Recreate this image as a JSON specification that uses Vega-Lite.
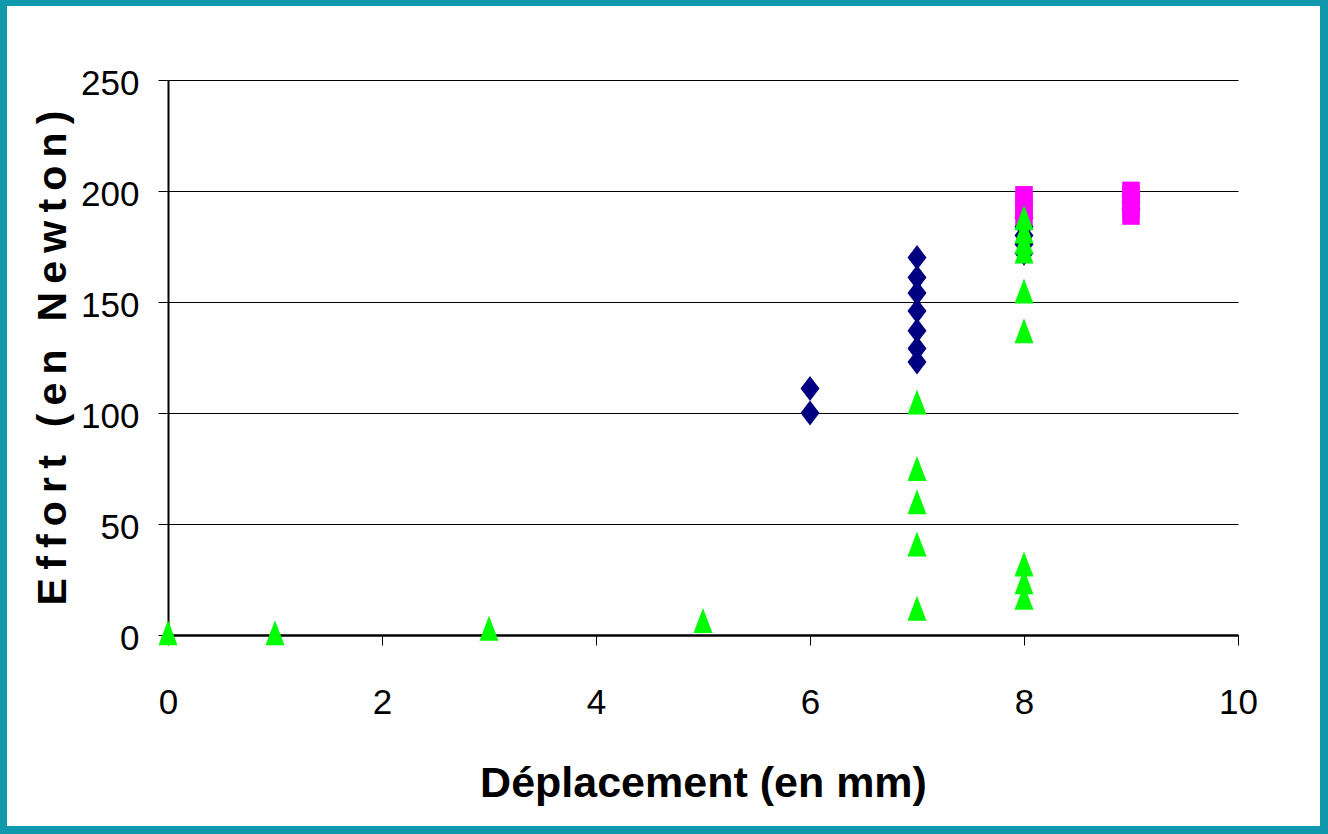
{
  "$schema": "https://vega.github.io/schema/vega-lite/v6.json",
  "width": 1313,
  "height": 820,
  "autosize": {"type": "none"},
  "padding": {"left": 7, "top": 6, "right": 8, "bottom": 8},
  "background": "#1098AD",
  "config": {
    "view": {"fill": "white", "stroke": null},
    "axis": {
      "labelColor": "black",
      "titleColor": "black",
      "tickColor": "black",
      "domainColor": "black",
      "labelFont": "Liberation Sans, Arial, sans-serif",
      "labelFontSize": 35,
      "labelFontWeight": "normal",
      "tickSize": 10,
      "tickWidth": 1,
      "labelFlush": false,
      "labelOverlap": false
    }
  },
  "datasets": {
    "points": [
      {"serie": "Série 1", "deplacement": 6, "effort": 100},
      {"serie": "Série 1", "deplacement": 6, "effort": 111},
      {"serie": "Série 1", "deplacement": 7, "effort": 123},
      {"serie": "Série 1", "deplacement": 7, "effort": 129},
      {"serie": "Série 1", "deplacement": 7, "effort": 137},
      {"serie": "Série 1", "deplacement": 7, "effort": 146},
      {"serie": "Série 1", "deplacement": 7, "effort": 154},
      {"serie": "Série 1", "deplacement": 7, "effort": 161},
      {"serie": "Série 1", "deplacement": 7, "effort": 170},
      {"serie": "Série 1", "deplacement": 8, "effort": 172},
      {"serie": "Série 1", "deplacement": 8, "effort": 176},
      {"serie": "Série 1", "deplacement": 8, "effort": 180},
      {"serie": "Série 1", "deplacement": 8, "effort": 184},
      {"serie": "Série 1", "deplacement": 8, "effort": 188},
      {"serie": "Série 1", "deplacement": 9, "effort": 192},
      {"serie": "Série 1", "deplacement": 9, "effort": 195},
      {"serie": "Série 1", "deplacement": 9, "effort": 198},
      {"serie": "Série 2", "deplacement": 8, "effort": 189},
      {"serie": "Série 2", "deplacement": 8, "effort": 192},
      {"serie": "Série 2", "deplacement": 8, "effort": 195},
      {"serie": "Série 2", "deplacement": 8, "effort": 198},
      {"serie": "Série 2", "deplacement": 9, "effort": 189},
      {"serie": "Série 2", "deplacement": 9, "effort": 192},
      {"serie": "Série 2", "deplacement": 9, "effort": 195},
      {"serie": "Série 2", "deplacement": 9, "effort": 198},
      {"serie": "Série 2", "deplacement": 9, "effort": 200},
      {"serie": "Série 3", "deplacement": 0, "effort": 1},
      {"serie": "Série 3", "deplacement": 1, "effort": 1},
      {"serie": "Série 3", "deplacement": 3, "effort": 3},
      {"serie": "Série 3", "deplacement": 5, "effort": 6.5},
      {"serie": "Série 3", "deplacement": 7, "effort": 12},
      {"serie": "Série 3", "deplacement": 7, "effort": 41},
      {"serie": "Série 3", "deplacement": 7, "effort": 60},
      {"serie": "Série 3", "deplacement": 7, "effort": 75},
      {"serie": "Série 3", "deplacement": 7, "effort": 105},
      {"serie": "Série 3", "deplacement": 8, "effort": 17},
      {"serie": "Série 3", "deplacement": 8, "effort": 24},
      {"serie": "Série 3", "deplacement": 8, "effort": 32},
      {"serie": "Série 3", "deplacement": 8, "effort": 137},
      {"serie": "Série 3", "deplacement": 8, "effort": 155},
      {"serie": "Série 3", "deplacement": 8, "effort": 173},
      {"serie": "Série 3", "deplacement": 8, "effort": 177},
      {"serie": "Série 3", "deplacement": 8, "effort": 182},
      {"serie": "Série 3", "deplacement": 8, "effort": 188}
    ]
  },
  "layer": [
    {
      "data": {"name": "points"},
      "mark": {"type": "point", "filled": true, "opacity": 1, "size": 625, "strokeWidth": 0},
      "encoding": {
        "x": {
          "field": "deplacement",
          "type": "quantitative",
          "scale": {"domain": [0, 10], "range": [161, 1231], "nice": false},
          "axis": {
            "values": [0, 2, 4, 6, 8, 10],
            "format": "d",
            "offset": -191,
            "grid": false,
            "domainWidth": 2.5,
            "labelPadding": 40,
            "title": "Déplacement (en mm)",
            "titleFont": "Liberation Sans, Arial, sans-serif",
            "titleFontSize": 43,
            "titleFontWeight": "bold",
            "titlePadding": 42
          }
        },
        "y": {
          "field": "effort",
          "type": "quantitative",
          "scale": {"domain": [0, 250], "range": [629, 74], "nice": false},
          "axis": {
            "values": [0, 50, 100, 150, 200, 250],
            "format": "d",
            "offset": -161,
            "grid": true,
            "gridColor": "black",
            "gridWidth": 1,
            "gridOpacity": 1,
            "domainWidth": 2,
            "labelPadding": 19,
            "labelOffset": 3,
            "title": "E\u2009f\u2009f\u2009o\u2009r\u2009t\u2009 \u2009(\u2009e\u2009n\u2009 \u2009N\u2009e\u2009w\u2009t\u2009o\u2009n\u2009)",
            "titleFont": "Liberation Sans, Arial, sans-serif",
            "titleFontSize": 41,
            "titleFontWeight": "bold",
            "titlePadding": 6
          }
        },
        "shape": {
          "field": "serie",
          "type": "nominal",
          "scale": {
            "domain": ["Série 1", "Série 2", "Série 3"],
            "range": ["M0,-1L0.76,0L0,1L-0.76,0Z", "M-0.7,-0.75L0.7,-0.75L0.7,0.75L-0.7,0.75Z", "M0,-1L0.76,1L-0.76,1Z"]
          },
          "legend": null
        },
        "color": {
          "field": "serie",
          "type": "nominal",
          "scale": {
            "domain": ["Série 1", "Série 2", "Série 3"],
            "range": ["#000080", "#FF00FF", "#00FF00"]
          },
          "legend": null
        }
      }
    },
    {
      "mark": {"type": "rule", "color": "black", "strokeWidth": 2},
      "encoding": {
        "x": {"datum": 10, "type": "quantitative"},
        "y": {"datum": 0, "type": "quantitative"},
        "y2": {"datum": 250}
      }
    },
    {
      "mark": {"type": "rule", "color": "black", "strokeWidth": 2},
      "encoding": {
        "x": {"datum": 0, "type": "quantitative"},
        "x2": {"datum": 10},
        "y": {"datum": 250, "type": "quantitative"}
      }
    }
  ]
}
